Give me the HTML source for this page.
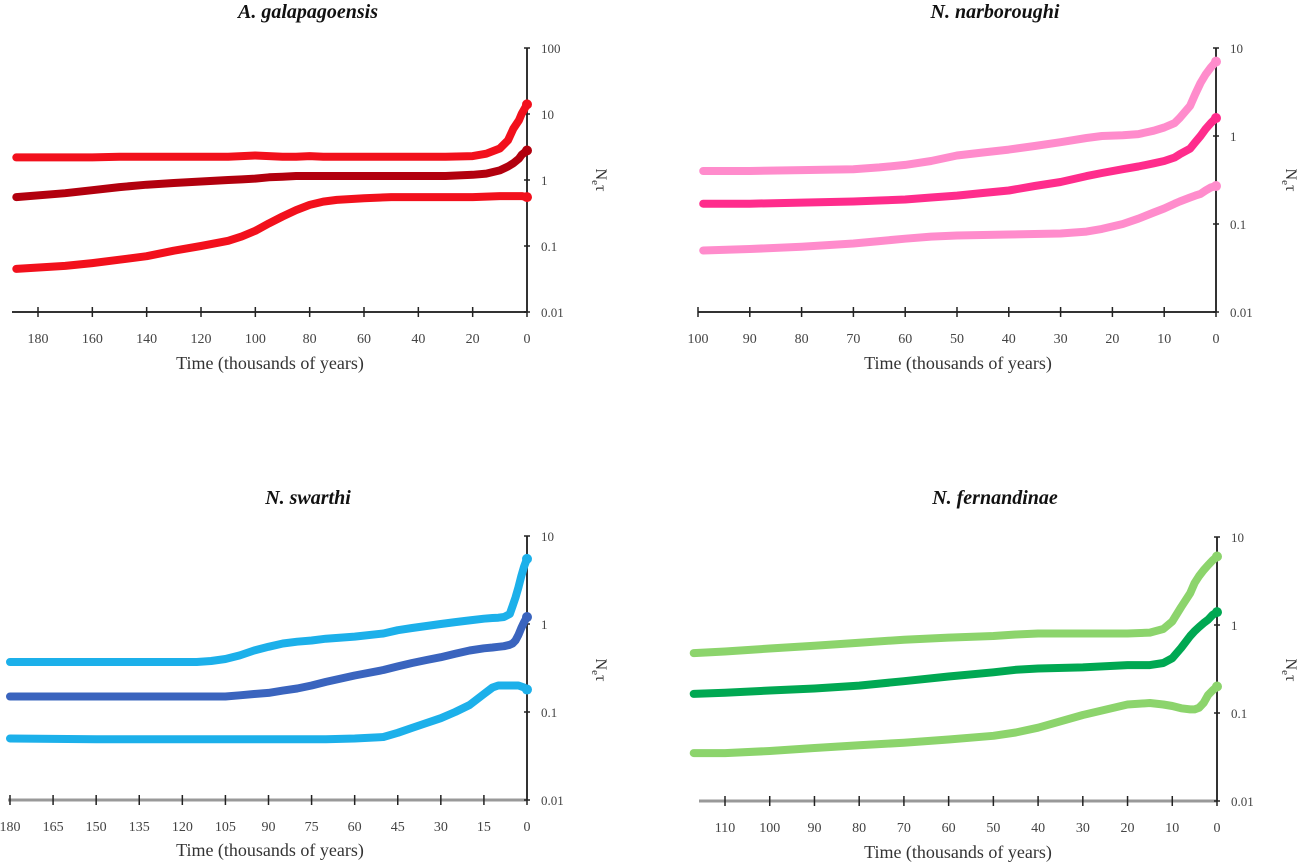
<!DOCTYPE html>
<html><head><meta charset="utf-8"><style>
html,body{margin:0;padding:0;background:#fff;}
svg{display:block;font-family:"Liberation Serif",serif;}
</style></head><body>
<svg id="c" width="1299" height="864" viewBox="0 0 1299 864"></svg>
<script>
// Panel 1: A. galapagoensis
const p1Times = [188,170,160,150,140,130,120,110,105,100,95,90,85,80,75,70,60,50,40,30,20,15,10,7,5,3,2,0];
const p1Upper = [2.2,2.2,2.2,2.25,2.25,2.25,2.25,2.25,2.3,2.35,2.3,2.25,2.25,2.3,2.25,2.25,2.25,2.25,2.25,2.25,2.3,2.5,3,4,6,8,10,14];
const p1Middle = [0.55,0.63,0.7,0.78,0.85,0.9,0.95,1.0,1.02,1.05,1.1,1.12,1.15,1.15,1.15,1.15,1.15,1.15,1.15,1.15,1.2,1.25,1.4,1.6,1.8,2.1,2.4,2.8];
const p1Lower = [0.045,0.05,0.055,0.062,0.07,0.085,0.1,0.12,0.14,0.17,0.22,0.28,0.35,0.42,0.47,0.5,0.53,0.55,0.55,0.55,0.55,0.56,0.57,0.57,0.57,0.57,0.57,0.55];
const p1XTicks = [180,160,140,120,100,80,60,40,20,0];
const p1YTicks = ["100","10","1","0.1","0.01"];
// Panel 2: N. narboroughi
const p2Times = [99,90,80,70,65,60,55,50,45,40,35,30,25,22,18,15,12,10,8,7,5,4,3,2,1,0];
const p2Upper = [0.4,0.4,0.41,0.42,0.44,0.47,0.52,0.6,0.65,0.7,0.77,0.85,0.95,1.0,1.02,1.05,1.15,1.25,1.4,1.6,2.2,3,4,5,6,7];
const p2Middle = [0.17,0.17,0.175,0.18,0.185,0.19,0.2,0.21,0.225,0.24,0.27,0.3,0.35,0.38,0.42,0.45,0.49,0.52,0.57,0.62,0.72,0.85,1.0,1.2,1.4,1.6];
const p2Lower = [0.05,0.052,0.055,0.06,0.064,0.068,0.072,0.074,0.075,0.076,0.077,0.078,0.082,0.088,0.1,0.115,0.135,0.15,0.17,0.18,0.2,0.21,0.22,0.24,0.26,0.27];
const p2XTicks = [100,90,80,70,60,50,40,30,20,10,0];
const p2YTicks = ["10","1","0.1","0.01"];
// Panel 3: N. swarthi
const p3Times = [180,150,130,115,110,105,100,95,90,85,80,75,70,60,50,45,40,35,30,25,20,15,12,10,8,6,5,4,3,2,1,0];
const p3Upper = [0.37,0.37,0.37,0.37,0.38,0.4,0.44,0.5,0.55,0.6,0.63,0.65,0.68,0.72,0.78,0.85,0.9,0.95,1.0,1.05,1.1,1.15,1.17,1.18,1.2,1.3,1.6,2,2.6,3.5,4.5,5.5];
const p3Middle = [0.15,0.15,0.15,0.15,0.15,0.15,0.155,0.16,0.165,0.175,0.185,0.2,0.22,0.26,0.3,0.33,0.36,0.39,0.42,0.46,0.5,0.53,0.54,0.55,0.56,0.58,0.6,0.65,0.75,0.9,1.05,1.2];
const p3Lower = [0.05,0.049,0.049,0.049,0.049,0.049,0.049,0.049,0.049,0.049,0.049,0.049,0.049,0.05,0.052,0.058,0.066,0.075,0.085,0.1,0.12,0.16,0.19,0.2,0.2,0.2,0.2,0.2,0.2,0.195,0.19,0.18];
const p3XTicks = [180,165,150,135,120,105,90,75,60,45,30,15,0];
const p3YTicks = ["10","1","0.1","0.01"];
// Panel 4: N. fernandinae
const p4Times = [117,110,100,90,80,70,60,50,45,40,30,20,15,12,10,8,6,5,4,3,2,1,0];
const p4Upper = [0.48,0.5,0.54,0.58,0.63,0.68,0.72,0.75,0.78,0.8,0.8,0.8,0.82,0.9,1.1,1.6,2.3,3,3.6,4.2,4.8,5.4,6];
const p4Middle = [0.165,0.17,0.18,0.19,0.205,0.23,0.26,0.29,0.31,0.32,0.33,0.35,0.35,0.37,0.42,0.55,0.75,0.85,0.95,1.05,1.15,1.3,1.4];
const p4Lower = [0.035,0.035,0.037,0.04,0.043,0.046,0.05,0.055,0.06,0.068,0.095,0.125,0.13,0.125,0.12,0.113,0.11,0.11,0.115,0.13,0.16,0.18,0.2];
const p4XTicks = [110,100,90,80,70,60,50,40,30,20,10,0];
const p4YTicks = ["10","1","0.1","0.01"];

const NS = "http://www.w3.org/2000/svg";
const svg = document.getElementById('c');
function mk(tag, attrs, parent){const e=document.createElementNS(NS,tag);for(const k in attrs)e.setAttribute(k,attrs[k]);(parent||svg).appendChild(e);return e;}

const panels = [
 {id:"galapagoensis",title:"A. galapagoensis",times:p1Times,series:[p1Upper,p1Middle,p1Lower],colors:["#f2101c","#b2000e","#f2101c"],xt:p1XTicks,yt:p1YTicks,
  ax:527,xMaxT:180,xMaxPx:38,yTop:48,yBot:312,xLeft:12,axisColor:"#333",titleX:308,titleY:18,xtitleX:270,xtitleY:369,ylabX:596,ylabY:180,tmax:100},
 {id:"narboroughi",title:"N. narboroughi",times:p2Times,series:[p2Upper,p2Middle,p2Lower],colors:["#ff8ccc","#ff2c8c","#ff8ccc"],xt:p2XTicks,yt:p2YTicks,
  ax:1216,xMaxT:100,xMaxPx:698,yTop:48,yBot:312,xLeft:698,axisColor:"#333",titleX:995,titleY:18,xtitleX:958,xtitleY:369,ylabX:1286,ylabY:180,tmax:10},
 {id:"swarthi",title:"N. swarthi",times:p3Times,series:[p3Upper,p3Middle,p3Lower],colors:["#1cb0ea","#3a64be","#1cb0ea"],xt:p3XTicks,yt:p3YTicks,
  ax:527,xMaxT:180,xMaxPx:10,yTop:536,yBot:800,xLeft:8,axisColor:"#999",titleX:308,titleY:504,xtitleX:270,xtitleY:856,ylabX:596,ylabY:670,tmax:10},
 {id:"fernandinae",title:"N. fernandinae",times:p4Times,series:[p4Upper,p4Middle,p4Lower],colors:["#8cd46c","#00a852","#8cd46c"],xt:p4XTicks,yt:p4YTicks,
  ax:1217,xMaxT:110,xMaxPx:725,yTop:537,yBot:801,xLeft:699,axisColor:"#999",titleX:995,titleY:504,xtitleX:958,xtitleY:858,ylabX:1286,ylabY:670,tmax:10}
];
const names=["upper-ci","median","lower-ci"];
panels.forEach(p=>{
  const g=mk('g',{});
  
  
  const kx=(p.ax-p.xMaxPx)/p.xMaxT;
  const X=t=>p.ax-t*kx;
  const decades=p.yt.length-1;
  const logTop=Math.log10(p.tmax);
  const Y=v=>p.yTop+(logTop-Math.log10(v))*(p.yBot-p.yTop)/decades;
  const tt=mk('text',{x:p.titleX,y:p.titleY,'text-anchor':'middle','font-size':'20','font-weight':'bold','font-style':'italic',fill:'#111'},g);
  tt.textContent=p.title;
  
  
  const xa=mk('line',{x1:p.xLeft,y1:p.yBot,x2:p.ax,y2:p.yBot,stroke:p.axisColor,'stroke-width':p.axisColor=="#999"?3:2},g);
  
  
  p.xt.forEach(t=>{
    const tk=mk('line',{x1:X(t),y1:p.yBot-5,x2:X(t),y2:p.yBot+5,stroke:'#222','stroke-width':1.5},g);
    
    
    const tl=mk('text',{x:X(t),y:p.yBot+31,'text-anchor':'middle','font-size':'14',fill:'#444'},g);
    tl.textContent=t;
    
    
  });
  const xt=mk('text',{x:p.xtitleX,y:p.xtitleY,'text-anchor':'middle','font-size':'18',fill:'#333'},g);
  xt.textContent="Time (thousands of years)";
  
  
  const ya=mk('line',{x1:p.ax,y1:p.yTop,x2:p.ax,y2:p.yBot,stroke:'#333','stroke-width':2},g);
  
  
  p.yt.forEach((lab,i)=>{
    const yy=p.yTop+i*(p.yBot-p.yTop)/decades;
    const tk=mk('line',{x1:p.ax-3,y1:yy,x2:p.ax+3,y2:yy,stroke:'#222','stroke-width':1.5},g);
    
    
    const tl=mk('text',{x:p.ax+14,y:yy+5,'font-size':'13',fill:'#444'},g);
    tl.textContent=lab;
    
    
  });
  const yl=mk('text',{x:p.ylabX,y:p.ylabY,'text-anchor':'middle','font-size':'16',fill:'#333',transform:`rotate(90 ${p.ylabX} ${p.ylabY})`},g);
  yl.innerHTML='N<tspan font-size="11" dy="4">e</tspan><tspan dy="-4">τ</tspan>';
  
  
  p.series.forEach((vals,si)=>{
    const pts=p.times.map((t,i)=>X(t).toFixed(1)+','+Y(vals[i]).toFixed(1)).join(' ');
    const pl=mk('polyline',{points:pts,fill:'none',stroke:p.colors[si],'stroke-width':8,'stroke-linejoin':'round','stroke-linecap':'round'},g);
    
    
    const end=mk('circle',{cx:X(p.times[p.times.length-1]),cy:Y(vals[vals.length-1]),r:5,fill:p.colors[si]},g);
    
    
  });
});
</script>
</body></html>
